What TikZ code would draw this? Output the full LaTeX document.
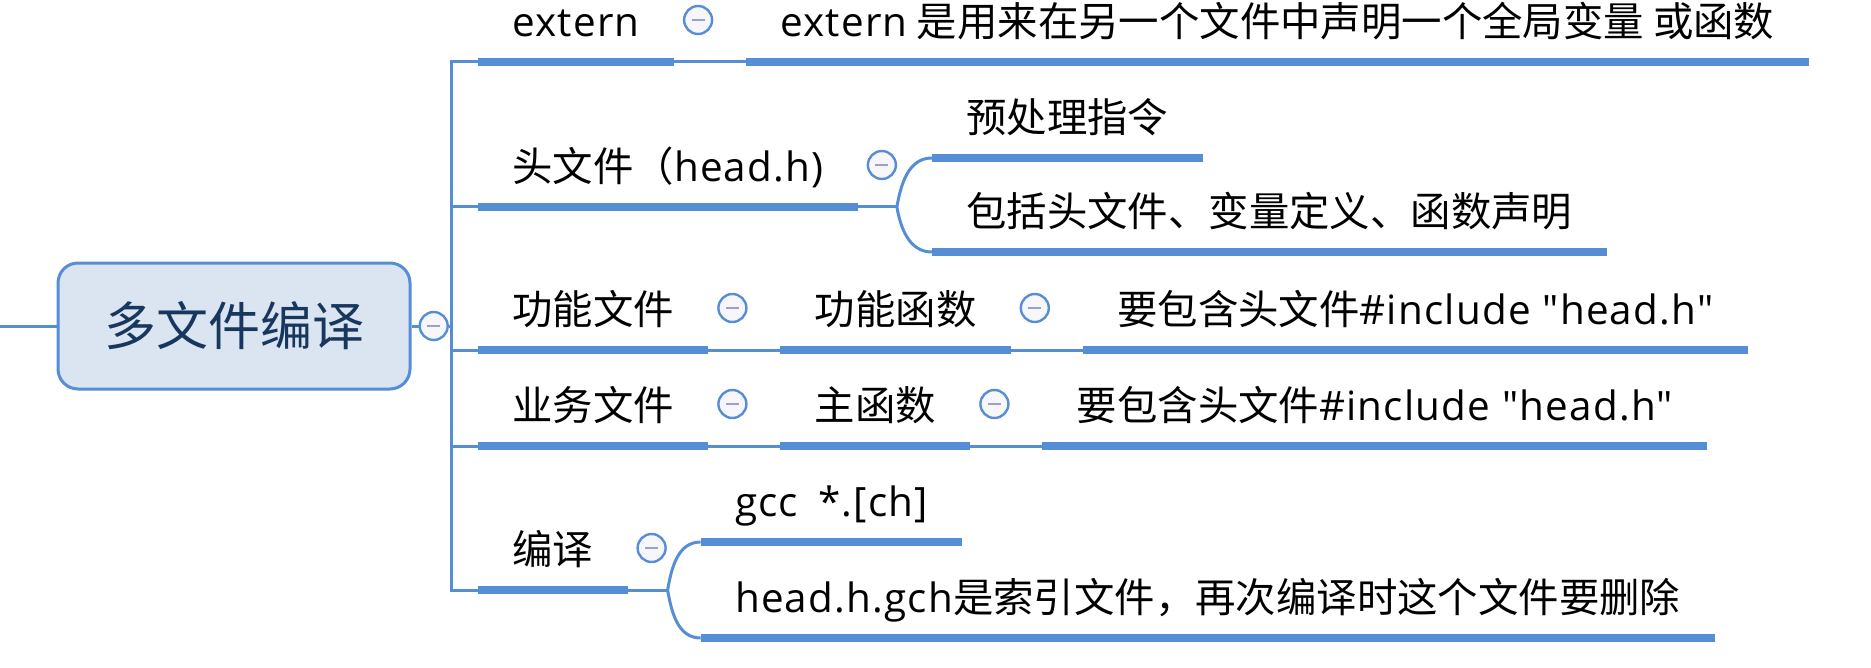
\documentclass[tikz,border=0pt]{standalone}
\usepackage{fontspec}
\newfontfamily\cjk{Noto Sans CJK SC}
\newfontfamily\lat{Open Sans}[LetterSpace=3]
\definecolor{branch}{RGB}{85,142,213}
\definecolor{rootfill}{RGB}{219,229,241}
\definecolor{roottext}{RGB}{23,55,94}
\definecolor{togminus}{RGB}{154,160,204}
\usetikzlibrary{positioning, calc}

\begin{document}
\begin{tikzpicture}[
            x=0.5pt, y=-0.5pt,
            node distance=36pt,
            root/.style={draw=branch, fill=rootfill, line width=1.5pt, rounded corners=10pt, minimum width=176pt, minimum height=63pt, font=\cjk\fontsize{26pt}{30pt}\selectfont, text=roottext},
            topic/.style={font=\cjk\fontsize{20.2pt}{24pt}\selectfont, inner xsep=17pt, inner ysep=12.5pt, text depth=0pt, anchor=south west},
            uline/.style={branch, line width=4.2pt},
            link/.style={branch, line width=1.5pt},
            tog/.style={circle, draw=branch, fill=togminus!8, line width=1.2pt, minimum size=14pt, inner sep=0pt,
                path picture={\draw[togminus, line width=1pt] ([xshift=-3.2pt]path picture bounding box.center) -- ([xshift=3.2pt]path picture bounding box.center);}}
        ]
            \useasboundingbox (0,0) rectangle (1871,668);

            \node[root] (root) at (234,326) {多文件编译};
            \node[tog, right=3.5pt of root] (rtog) {};
            \coordinate[right=1.5pt of rtog] (trunk);
            \coordinate (lin) at (0,326);

            \node[topic] (extern) at (478,62) {\lat extern};
            \node[topic] (header) at (478,207) {头文件（\lat head.h)};
            \node[topic] (funcfile) at (478,350) {功能文件};
            \node[topic] (bizfile) at (478,446) {业务文件};
            \node[topic] (compile) at (478,590) {编译};

            \node[topic, right=36pt of extern.south east, anchor=south west] (externdesc) {{\lat extern} 是用来在另一个文件中声明一个全局变量 或函数};
            \coordinate[right=19.5pt of header.south east] (hbr);
            \node[topic, above right=24.5pt and 17.5pt of hbr, anchor=south west] (prep) {预处理指令};
            \node[topic, below right=22.5pt and 17.5pt of hbr, anchor=south west] (incl) {包括头文件、变量定义、函数声明};
            \node[topic, right=36pt of funcfile.south east, anchor=south west] (funcs) {功能函数};
            \node[topic, right=36pt of funcs.south east, anchor=south west] (funcinc) {要包含头文件{\lat\#include "head.h"}};
            \node[topic, right=36pt of bizfile.south east, anchor=south west] (mainf) {主函数};
            \node[topic, right=36pt of mainf.south east, anchor=south west] (maininc) {要包含头文件{\lat\#include "head.h"}};
            \coordinate[right=20pt of compile.south east] (cbr);
            \node[topic, above right=24pt and 16.5pt of cbr, anchor=south west] (gcc) {\lat gcc\hspace{0.5em}*.[ch]};
            \node[topic, below right=24pt and 16.5pt of cbr, anchor=south west] (gch) {{\lat head.h.gch}是索引文件，再次编译时这个文件要删除};

            \foreach \n/\m in {extern/externdesc, header/hbr, funcfile/funcs, funcs/funcinc, bizfile/mainf, mainf/maininc, compile/cbr}
                \node[tog] (tog-\n) at ($(\n.south east)+(24,-42)$) {};

            \draw[link] (lin) -- (root.west);
            \draw[link] (root.east) -- (rtog.west);
            \draw[link] (rtog.east) -- (trunk);
            \draw[link, line cap=rect] (trunk |- extern.south) -- (trunk |- compile.south);
            \foreach \n in {extern, header, funcfile, bizfile, compile}
                \draw[link] (trunk |- \n.south) -- (\n.south west);

            \draw[link] (extern.south east) -- (externdesc.south west);
            \draw[link] (header.south east) -- (hbr);
            \draw[link] (hbr) to[out=80, in=180] (prep.south west);
            \draw[link] (hbr) to[out=-80, in=180] (incl.south west);
            \draw[link] (funcfile.south east) -- (funcs.south west);
            \draw[link] (funcs.south east) -- (funcinc.south west);
            \draw[link] (bizfile.south east) -- (mainf.south west);
            \draw[link] (mainf.south east) -- (maininc.south west);
            \draw[link] (compile.south east) -- (cbr);
            \draw[link] (cbr) to[out=80, in=180] (gcc.south west);
            \draw[link] (cbr) to[out=-80, in=180] (gch.south west);

            \foreach \n in {extern, externdesc, header, prep, incl, funcfile, funcs, funcinc, bizfile, mainf, maininc, compile, gcc, gch}
                \draw[uline] (\n.south west) -- (\n.south east);
        \end{tikzpicture}
\end{document}
